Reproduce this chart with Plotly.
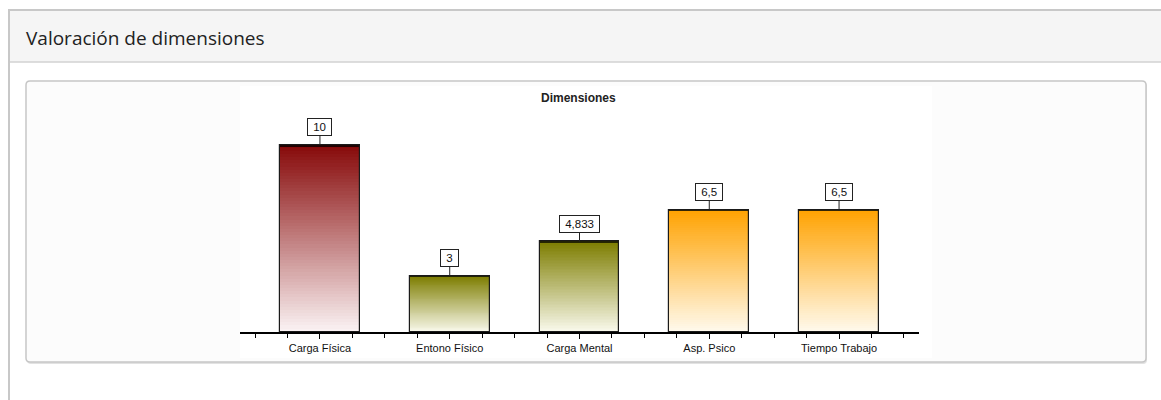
import plotly.graph_objects as go

# ---- data ----
categories = ["Carga Física", "Entono Físico", "Carga Mental", "Asp. Psico", "Tiempo Trabajo"]
values = [10, 3, 4.833, 6.5, 6.5]
value_labels = ["10", "3", "4,833", "6,5", "6,5"]
top_colors = ["#860808", "#7d7d00", "#7d7d00", "#ffa200", "#ffa200"]
bottom_colors = ["#fbf3f4", "#fafaee", "#fafaee", "#fffaee", "#fffaee"]
edge_colors = ["#220000", "#262600", "#262600", "#3a2a00", "#3a2a00"]
page_title = "Valoración de dimensiones"
chart_title = "Dimensiones"

W, H = 1161, 400


def px(x):
    return x / W


def py(y):
    return 1 - y / H


def hex2rgb(h):
    h = h.lstrip("#")
    return tuple(int(h[i:i + 2], 16) for i in (0, 2, 4))


def mix(c1, c2, t):
    a, b = hex2rgb(c1), hex2rgb(c2)
    return "rgb(%d,%d,%d)" % tuple(round(a[i] + (b[i] - a[i]) * t) for i in range(3))


idx = list(range(len(categories)))
bar_w = 0.616
fig = go.Figure()

# gradient fill drawn as thin stacked slices of each bar
N = 60
for k in range(N):
    t = (k + 0.5) / N
    fig.add_trace(go.Bar(
        x=idx, y=[v / N for v in values], base=[v * k / N for v in values],
        width=bar_w,
        marker=dict(color=[mix(b, tp, t) for b, tp in zip(bottom_colors, top_colors)],
                    line=dict(width=0)),
        hoverinfo="skip", showlegend=False))

# dark top rim
rim = [0.1, 0.07, 0.07, 0.04, 0.04]
fig.add_trace(go.Bar(
    x=idx, y=rim, base=[v - r for v, r in zip(values, rim)], width=bar_w,
    marker=dict(color=edge_colors, line=dict(width=0)),
    hoverinfo="skip", showlegend=False))

# outline
fig.add_trace(go.Bar(
    x=idx, y=values, width=bar_w,
    marker=dict(color="rgba(0,0,0,0)", line=dict(color="#1a1a1a", width=1.2)),
    customdata=value_labels,
    hovertemplate="%{customdata}<extra></extra>", showlegend=False))

# value labels
nb = "\u00a0"
for i, (v, lab) in enumerate(zip(values, value_labels)):
    fig.add_annotation(
        x=i, y=v, xref="x", yref="y", text=nb + lab + nb,
        showarrow=True, arrowhead=0, arrowwidth=1, arrowcolor="#222",
        ax=0, ay=-18, standoff=0,
        bordercolor="#222", borderwidth=1, borderpad=2, bgcolor="white",
        font=dict(family="Liberation Sans, Arial", size=11.5, color="#111"))

# chart title
fig.add_annotation(
    x=px(578), y=py(98), xref="paper", yref="paper", text="<b>" + chart_title + "</b>",
    xanchor="center", yanchor="middle",
    showarrow=False, font=dict(family="Liberation Sans, Arial", size=12, color="#222"))

# page title
fig.add_annotation(
    x=px(24), y=py(38), xref="paper", yref="paper", text=page_title,
    xanchor="left", yanchor="middle", showarrow=False,
    font=dict(family="Open Sans", size=19, color="#222"))


def rounded(x0, y0, x1, y1, r):
    X0, X1 = px(x0), px(x1)
    Y0, Y1 = py(y0), py(y1)
    rx, ry = r / W, r / H
    return (f"M{X0 + rx},{Y0} L{X1 - rx},{Y0} Q{X1},{Y0} {X1},{Y0 - ry} "
            f"L{X1},{Y1 + ry} Q{X1},{Y1} {X1 - rx},{Y1} L{X0 + rx},{Y1} "
            f"Q{X0},{Y1} {X0},{Y1 + ry} L{X0},{Y0 - ry} Q{X0},{Y0} {X0 + rx},{Y0} Z")


shapes = [
    # outer panel
    dict(type="rect", xref="paper", yref="paper", x0=px(9), x1=px(1175), y0=py(10), y1=py(420),
         fillcolor="white", line=dict(color="#c8c8c8", width=2)),
    # header
    dict(type="rect", xref="paper", yref="paper", x0=px(10), x1=px(1175), y0=py(11), y1=py(62),
         fillcolor="#f5f5f5", line=dict(width=0)),
    dict(type="line", xref="paper", yref="paper", x0=px(10), x1=px(1175), y0=py(62), y1=py(62),
         line=dict(color="#d2d2d2", width=1.5)),
    # inner panel shadow + panel
    dict(type="path", xref="paper", yref="paper", path=rounded(27, 82, 1147, 364, 4),
         fillcolor="#e2e2e2", line=dict(width=0)),
    dict(type="path", xref="paper", yref="paper", path=rounded(26, 81, 1146, 362, 4),
         fillcolor="#fcfcfc", line=dict(color="#c6c6c6", width=1.5)),
    # chart image area
    dict(type="rect", xref="paper", yref="paper", x0=px(240), x1=px(932), y0=py(86), y1=py(358),
         fillcolor="white", line=dict(width=0)),
]
for s in shapes:
    s["layer"] = "below"

y_max = 11.0
fig.update_layout(
    width=W, height=H, autosize=False,
    margin=dict(l=0, r=0, t=0, b=0, pad=0),
    paper_bgcolor="white", plot_bgcolor="rgba(0,0,0,0)",
    barmode="overlay", bargap=0, showlegend=False,
    shapes=shapes,
    font=dict(family="Liberation Sans, Arial", size=11, color="#222"),
    xaxis=dict(
        domain=[px(240), px(919)], range=[-bar_w, len(categories) - 1 + bar_w],
        tickmode="array", tickvals=idx, ticktext=categories,
        showline=True, linecolor="black", linewidth=2,
        ticks="outside", ticklen=5, tickwidth=1, tickcolor="black",
        minor=dict(tickmode="linear", tick0=0, dtick=0.25, ticks="outside",
                   ticklen=4, tickwidth=1, tickcolor="black"),
        showgrid=False, zeroline=False, fixedrange=True,
        tickfont=dict(family="Liberation Sans, Arial", size=11, color="#111"),
    ),
    yaxis=dict(
        domain=[py(332), py(332 - y_max * 18.7)], range=[0, y_max],
        visible=False, showgrid=False, zeroline=False, fixedrange=True,
    ),
)

fig.write_html("out.html", config={"displayModeBar": False},
               post_script="document.body.style.margin='0';document.body.style.overflow='hidden';")
